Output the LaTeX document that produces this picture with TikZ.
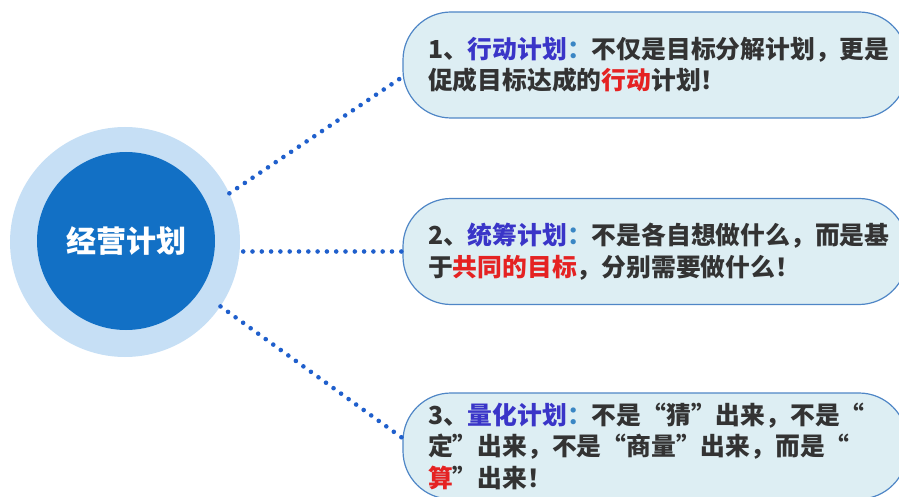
\documentclass[tikz,border=0pt]{standalone}
\usepackage{fontspec}
\usepackage{xcolor}
\newfontfamily\cjk{Noto Sans CJK SC}

\definecolor{ringblue}{HTML}{C6DFF5}
\definecolor{coreblue}{HTML}{1270C5}
\definecolor{dotblue}{HTML}{1F5FCC}
\definecolor{boxfill}{HTML}{DDEEF3}
\definecolor{boxline}{HTML}{4F86C6}
\definecolor{textgray}{HTML}{333333}
\definecolor{nameblue}{HTML}{3A35C8}
\definecolor{colonblue}{HTML}{3A86C4}
\definecolor{stressred}{HTML}{E52222}

\newcommand{\planname}[1]{\textcolor{nameblue}{#1}\textcolor{colonblue}{：}}
\newcommand{\stress}[1]{\textcolor{stressred}{#1}}

\begin{document}
\begin{tikzpicture}[x=1pt,y=-1pt]
    \tikzstyle{ring}=[circle,fill=ringblue,minimum size=230pt,inner sep=0pt]
    \tikzstyle{core}=[circle,fill=coreblue,minimum size=178pt,inner sep=0pt,text=white,font=\cjk\bfseries\fontsize{30pt}{36pt}\selectfont]
    \tikzstyle{plan box}=[rectangle,rounded corners=48pt,draw=boxline,line width=1.2pt,fill=boxfill,minimum height=106pt,text width=454pt,inner xsep=25pt,inner ysep=0pt,align=left,text=textgray,font=\cjk\bfseries\fontsize{24.8pt}{31.5pt}\selectfont]
    \tikzstyle{dots}=[draw=dotblue,line width=4.6pt,line cap=round,dash pattern=on 0pt off 9.3pt]

    \useasboundingbox (0,0) rectangle (899,497);

    % Draw the centre circle
    \node[ring] (C-out) at (125,242) {};
    \node[core] (C) at (126,241) {经营计划};

    % Draw the three plan boxes
    \node[plan box] (B-1) at (655,65) {1、\planname{行动计划}不仅是目标分解计划，更是\\促成目标达成的\stress{行动}计划！};
    \node[plan box] (B-2) at (655,251.5) {2、\planname{统筹计划}不是各自想做什么，而是基\\于\stress{共同的目标}，分别需要做什么！};
    \node[plan box] (B-3) at (655,446) {3、\planname{量化计划}不是“猜”出来，不是“\\定”出来，不是“商量”出来，而是“\\\stress{算}”出来！};

    % Connect the circle with every box
    \path[dots] (C-out.25) -- ([yshift=-12pt]B-1.west);
    \path[dots] ([xshift=3pt]C-out.east |- B-2.west) -- (B-2.west);
    \path[dots] (C-out.-34) -- ([yshift=8pt]B-3.west);
\end{tikzpicture}
\end{document}
